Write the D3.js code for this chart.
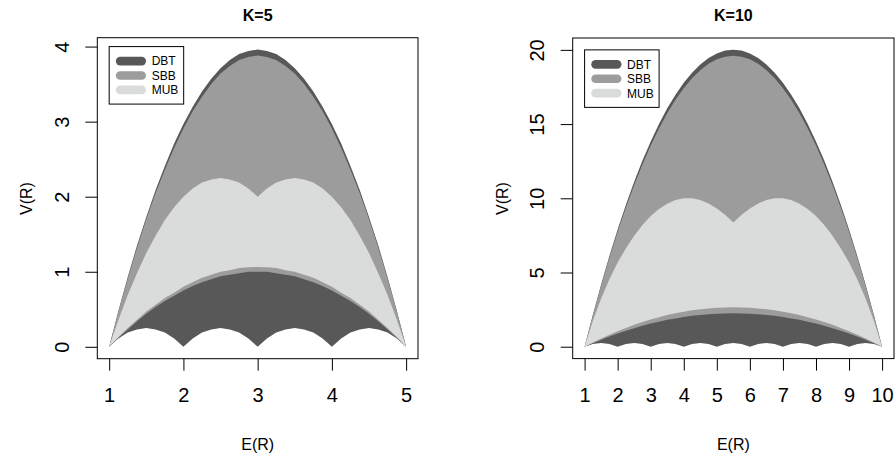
<!DOCTYPE html>
<html>
<head>
<meta charset="utf-8">
<script src="https://cdn.jsdelivr.net/npm/d3@7"></script>
<style>
  body { margin: 0; background: #fff; }
  svg { display: block; font-family: "Liberation Sans", Arial, sans-serif; }
</style>
</head>
<body>
<div id="chart"></div>
<script>
// ---- data ----
const seriesNames = ['DBT', 'SBB', 'MUB'];
const seriesColors = ['#585858', '#9b9c9b', '#dadbdb'];

// K = 5
const E5 = [1, 1.125, 1.25, 1.375, 1.5, 1.625, 1.75, 1.875, 2, 2.125, 2.25, 2.375, 2.5, 2.625, 2.75, 2.875,
  3, 3.125, 3.25, 3.375, 3.5, 3.625, 3.75, 3.875, 4, 4.125, 4.25, 4.375, 4.5, 4.625, 4.75, 4.875, 5];
const dbtUp5 = [0, 0.48, 0.93, 1.35, 1.73, 2.09, 2.41, 2.71, 2.97, 3.20, 3.40, 3.57, 3.71, 3.82, 3.90, 3.94,
  3.96, 3.94, 3.90, 3.82, 3.71, 3.57, 3.40, 3.20, 2.97, 2.71, 2.41, 2.09, 1.73, 1.35, 0.93, 0.48, 0];
const dbtLo5 = [0, 0.11, 0.19, 0.23, 0.25, 0.23, 0.19, 0.11, 0, 0.11, 0.19, 0.23, 0.25, 0.23, 0.19, 0.11,
  0, 0.11, 0.19, 0.23, 0.25, 0.23, 0.19, 0.11, 0, 0.11, 0.19, 0.23, 0.25, 0.23, 0.19, 0.11, 0];
const sbbUp5 = [0, 0.47, 0.91, 1.32, 1.70, 2.05, 2.36, 2.65, 2.91, 3.14, 3.33, 3.50, 3.64, 3.74, 3.82, 3.86,
  3.88, 3.86, 3.82, 3.74, 3.64, 3.50, 3.33, 3.14, 2.91, 2.65, 2.36, 2.05, 1.70, 1.32, 0.91, 0.47, 0];
const sbbLo5 = [0, 0.12, 0.23, 0.34, 0.44, 0.53, 0.61, 0.68, 0.75, 0.81, 0.86, 0.90, 0.94, 0.96, 0.98, 1.00,
  1.00, 1.00, 0.98, 0.96, 0.94, 0.90, 0.86, 0.81, 0.75, 0.68, 0.61, 0.53, 0.44, 0.34, 0.23, 0.12, 0];
const mubUp5 = [0, 0.36, 0.69, 0.98, 1.25, 1.48, 1.69, 1.86, 2.00, 2.11, 2.19, 2.23, 2.25, 2.23, 2.19, 2.11,
  2.00, 2.11, 2.19, 2.23, 2.25, 2.23, 2.19, 2.11, 2.00, 1.86, 1.69, 1.48, 1.25, 0.98, 0.69, 0.36, 0];
const mubLo5 = [0, 0.13, 0.25, 0.36, 0.47, 0.56, 0.65, 0.72, 0.80, 0.86, 0.92, 0.96, 1.00, 1.02, 1.05, 1.06,
  1.065, 1.06, 1.05, 1.02, 1.00, 0.96, 0.92, 0.86, 0.80, 0.72, 0.65, 0.56, 0.47, 0.36, 0.25, 0.13, 0];
const xTicks5 = [1, 2, 3, 4, 5];
const yTicks5 = [0, 1, 2, 3, 4];

// K = 10
const E10 = [1, 1.25, 1.5, 1.75, 2, 2.25, 2.5, 2.75, 3, 3.25, 3.5, 3.75, 4, 4.25, 4.5, 4.75, 5, 5.25, 5.5,
  5.75, 6, 6.25, 6.5, 6.75, 7, 7.25, 7.5, 7.75, 8, 8.25, 8.5, 8.75, 9, 9.25, 9.5, 9.75, 10];
const dbtUp10 = [0, 2.16, 4.20, 6.11, 7.90, 9.57, 11.12, 12.54, 13.83, 15.01, 16.06, 16.98, 17.78, 18.46, 19.02,
  19.45, 19.76, 19.95, 20.00, 19.95, 19.76, 19.45, 19.02, 18.46, 17.78, 16.98, 16.06, 15.01, 13.83, 12.54,
  11.12, 9.57, 7.90, 6.11, 4.20, 2.16, 0];
const dbtLo10 = [0, 0.19, 0.25, 0.19, 0, 0.19, 0.25, 0.19, 0, 0.19, 0.25, 0.19, 0, 0.19, 0.25, 0.19, 0, 0.19,
  0.25, 0.19, 0, 0.19, 0.25, 0.19, 0, 0.19, 0.25, 0.19, 0, 0.19, 0.25, 0.19, 0, 0.19, 0.25, 0.19, 0];
const sbbUp10 = [0, 2.12, 4.11, 5.99, 7.74, 9.38, 10.89, 12.28, 13.55, 14.70, 15.73, 16.64, 17.42, 18.09, 18.63,
  19.06, 19.36, 19.54, 19.60, 19.54, 19.36, 19.06, 18.63, 18.09, 17.42, 16.64, 15.73, 14.70, 13.55, 12.28,
  10.89, 9.38, 7.74, 5.99, 4.11, 2.12, 0];
const sbbLo10 = [0, 0.24, 0.47, 0.69, 0.89, 1.08, 1.25, 1.41, 1.56, 1.69, 1.81, 1.91, 2.00, 2.08, 2.14, 2.19,
  2.22, 2.24, 2.25, 2.24, 2.22, 2.19, 2.14, 2.08, 2.00, 1.91, 1.81, 1.69, 1.56, 1.41, 1.25, 1.08, 0.89, 0.69,
  0.47, 0.24, 0];
const mubUp10 = [0, 1.75, 3.25, 4.55, 5.67, 6.64, 7.48, 8.20, 8.80, 9.28, 9.64, 9.88, 10.00, 10.00, 9.88, 9.65,
  9.32, 8.89, 8.37, 8.89, 9.32, 9.65, 9.88, 10.00, 10.00, 9.88, 9.64, 9.28, 8.80, 8.20, 7.48, 6.64, 5.67, 4.55,
  3.25, 1.75, 0];
const mubLo10 = [0, 0.29, 0.56, 0.81, 1.05, 1.27, 1.48, 1.66, 1.84, 1.99, 2.13, 2.25, 2.36, 2.45, 2.52, 2.58,
  2.62, 2.65, 2.66, 2.65, 2.62, 2.58, 2.52, 2.45, 2.36, 2.25, 2.13, 1.99, 1.84, 1.66, 1.48, 1.27, 1.05, 0.81,
  0.56, 0.29, 0];
const xTicks10 = [1, 2, 3, 4, 5, 6, 7, 8, 9, 10];
const yTicks10 = [0, 5, 10, 15, 20];

// ---- layout ----
const W = 896, H = 455;
const svg = d3.select('#chart').append('svg')
  .attr('width', W)
  .attr('height', H);
svg.append('rect').attr('width', W).attr('height', H).attr('fill', '#fff');

const panels = [
  { title: 'K=5', box: { l: 97.3, r: 418, t: 37.7, b: 358.7 }, E: E5,
    bands: [[dbtLo5, dbtUp5], [sbbLo5, sbbUp5], [mubLo5, mubUp5]], xTicks: xTicks5, yTicks: yTicks5 },
  { title: 'K=10', box: { l: 572.7, r: 894, t: 38, b: 358.6 }, E: E10,
    bands: [[dbtLo10, dbtUp10], [sbbLo10, sbbUp10], [mubLo10, mubUp10]], xTicks: xTicks10, yTicks: yTicks10 }
];

panels.forEach(p => {
  const { box } = p;
  // R style: data range extended by 4% on each side
  const xr = d3.extent(p.E);
  const xpad = (xr[1] - xr[0]) * 0.04;
  const ymax = d3.max(p.bands[0][1]);
  const ypad = ymax * 0.04;

  const x = d3.scaleLinear().domain([xr[0] - xpad, xr[1] + xpad]).range([box.l, box.r]);
  const y = d3.scaleLinear().domain([-ypad, ymax + ypad]).range([box.b, box.t]);

  const g = svg.append('g');

  // filled regions, drawn in order DBT, SBB, MUB
  p.bands.forEach(([lo, hi], i) => {
    const area = d3.area()
      .x((d, j) => x(p.E[j]))
      .y0((d, j) => y(lo[j]))
      .y1((d, j) => y(hi[j]))
      .curve(d3.curveLinear);
    g.append('path')
      .datum(p.E)
      .attr('fill', seriesColors[i])
      .attr('d', area);
  });

  // plot box
  g.append('rect')
    .attr('x', box.l)
    .attr('y', box.t)
    .attr('width', box.r - box.l)
    .attr('height', box.b - box.t)
    .attr('fill', 'none')
    .attr('stroke', '#000')
    .attr('stroke-width', 1);

  // x axis
  const xAxis = g.append('g')
    .attr('transform', `translate(0,${box.b})`)
    .call(d3.axisBottom(x).tickValues(p.xTicks).tickSize(12).tickPadding(17).tickFormat(d3.format('d')));
  xAxis.select('.domain').remove();
  xAxis.selectAll('line').attr('stroke', '#000');
  xAxis.selectAll('text')
    .attr('fill', '#000')
    .style('font-size', '20px')
    .style('font-family', '"Liberation Sans", Arial, sans-serif');

  // y axis (labels rotated like R's las=0)
  const yAxis = g.append('g')
    .attr('transform', `translate(${box.l},0)`)
    .call(d3.axisLeft(y).tickValues(p.yTicks).tickSize(12).tickFormat(d3.format('d')));
  yAxis.select('.domain').remove();
  yAxis.selectAll('line').attr('stroke', '#000');
  yAxis.selectAll('text')
    .attr('x', null)
    .attr('dy', '0.35em')
    .attr('text-anchor', 'middle')
    .attr('transform', 'translate(-35.5,0) rotate(-90)')
    .attr('fill', '#000')
    .style('font-size', '20px')
    .style('font-family', '"Liberation Sans", Arial, sans-serif');

  const cx = (box.l + box.r) / 2;

  // title
  svg.append('text')
    .attr('x', cx)
    .attr('y', 20.8)
    .attr('text-anchor', 'middle')
    .style('font-size', '16px')
    .style('font-weight', 'bold')
    .text(p.title);

  // axis titles
  svg.append('text')
    .attr('x', cx)
    .attr('y', 450)
    .attr('text-anchor', 'middle')
    .style('font-size', '16px')
    .text('E(R)');

  svg.append('text')
    .attr('transform', `translate(${box.l - 70.6},198.5) rotate(-90)`)
    .attr('dy', '0.35em')
    .attr('text-anchor', 'middle')
    .style('font-size', '16px')
    .text('V(R)');

  // legend, anchored at (first x tick, last y tick) like legend(x, y)
  const lx = x(p.xTicks[0]);
  const ly = y(p.yTicks[p.yTicks.length - 1]);
  const legend = svg.append('g').attr('transform', `translate(${lx},${ly})`);
  legend.append('rect')
    .attr('width', 74.5)
    .attr('height', 57.5)
    .attr('fill', '#fff')
    .attr('stroke', '#000')
    .attr('stroke-width', 1);
  seriesNames.forEach((name, i) => {
    const row = legend.append('g').attr('transform', `translate(0,${14.5 + i * 14.4})`);
    row.append('line')
      .attr('x1', 11)
      .attr('x2', 32.5)
      .attr('stroke', seriesColors[i])
      .attr('stroke-width', 8.7)
      .attr('stroke-linecap', 'round');
    row.append('text')
      .attr('x', 42.5)
      .attr('dy', '0.36em')
      .style('font-size', '12px')
      .text(name);
  });
});
</script>
</body>
</html>
